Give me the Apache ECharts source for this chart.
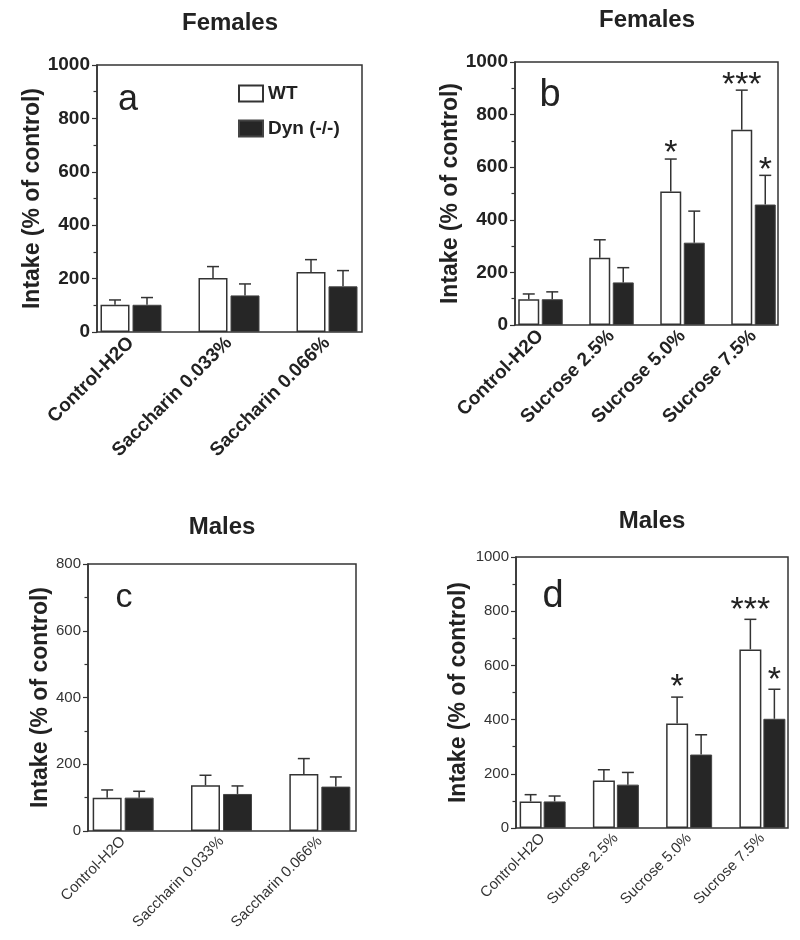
<!DOCTYPE html>
<html>
<head>
<meta charset="utf-8">
<script src="https://cdn.jsdelivr.net/npm/echarts@6/dist/echarts.min.js"></script>
<style>html,body{margin:0;padding:0;background:#fff;}#main{width:800px;height:940px;}</style>
</head>
<body>
<div id="main"></div>
<script>
// ---------- data ----------
const saccCats = ['Control-H2O', 'Saccharin 0.033%', 'Saccharin 0.066%'];
const sucCats = ['Control-H2O', 'Sucrose 2.5%', 'Sucrose 5.0%', 'Sucrose 7.5%'];
const seriesNames = ['WT', 'Dyn (-/-)'];

// Females, saccharin (panel a)
const femSaccWT = [102, 202, 225];
const femSaccWTSem = [18, 43, 46];
const femSaccDyn = [102, 137, 171];
const femSaccDynSem = [27, 43, 59];

// Females, sucrose (panel b)
const femSucWT = [98, 256, 508, 742];
const femSucWTSem = [20, 68, 123, 151];
const femSucDyn = [98, 162, 313, 458];
const femSucDynSem = [28, 56, 120, 111];
const femSucWTSig = ['', '', '*', '***'];
const femSucDynSig = ['', '', '', '*'];

// Males, saccharin (panel c)
const maleSaccWT = [100, 137, 171];
const maleSaccWTSem = [23, 30, 46];
const maleSaccDyn = [100, 111, 133];
const maleSaccDynSem = [19, 24, 29];

// Males, sucrose (panel d)
const maleSucWT = [98, 175, 386, 659];
const maleSucWTSem = [25, 40, 97, 111];
const maleSucDyn = [98, 160, 271, 403];
const maleSucDynSem = [20, 45, 73, 109];
const maleSucWTSig = ['', '', '*', '***'];
const maleSucDynSig = ['', '', '', '*'];

const yTicksMax = { a: 1000, b: 1000, c: 800, d: 1000 };
const yTickStep = 200;
const yAxisName = 'Intake (% of control)';

// ---------- build ----------
const FONT = '"Liberation Sans", Arial, Helvetica, sans-serif';
const INK = '#222';
const LINE = '#333';
const grids = [], xAxes = [], yAxes = [], series = [];

function errSeries(xi, yi, vals, sems, sigs, offset, sigOff) {
  return {
    type: 'custom', xAxisIndex: xi, yAxisIndex: yi, z: 5, silent: true,
    data: vals.map((v, i) => [i, v, sems[i]]),
    renderItem: function (params, api) {
      const i = api.value(0), m = api.value(1), s = api.value(2);
      const p0 = api.coord([i, m]);
      const p1 = api.coord([i, m + s]);
      const x = p0[0] + offset;
      const children = [
        { type: 'line', shape: { x1: x, y1: p0[1], x2: x, y2: p1[1] }, style: { stroke: LINE, lineWidth: 1.5 } },
        { type: 'line', shape: { x1: x - 6, y1: p1[1], x2: x + 6, y2: p1[1] }, style: { stroke: LINE, lineWidth: 1.5 } }
      ];
      const sig = sigs ? sigs[params.dataIndex] : '';
      if (sig) {
        children.push({ type: 'text', style: {
          text: sig, x: x, y: p1[1] - sigOff, align: 'center', verticalAlign: 'middle',
          textAlign: 'center', textVerticalAlign: 'middle',
          font: '34px ' + FONT, fill: INK } });
      }
      return { type: 'group', children: children };
    }
  };
}

function addPanel(p) {
  const gi = grids.length;
  grids.push({ left: p.box[0], top: p.box[1], width: p.box[2], height: p.box[3], show: true,
    borderColor: LINE, borderWidth: 1.5, backgroundColor: 'transparent', containLabel: false, outerBoundsMode: 'none' });
  grids.push({ left: p.cat[0], top: p.box[1], width: p.cat[1], height: p.box[3], containLabel: false, outerBoundsMode: 'none' });
  xAxes.push({ gridIndex: gi, type: 'category', data: p.cats, show: false });
  yAxes.push({
    gridIndex: gi, type: 'value', min: 0, max: p.max, interval: yTickStep,
    name: yAxisName, nameLocation: 'middle', nameGap: p.nameGap,
    nameTextStyle: { fontFamily: FONT, fontWeight: 'bold', fontSize: 23, color: INK },
    axisLine: { show: true, lineStyle: { color: LINE, width: 1.5 } },
    axisTick: { show: true, length: 5, lineStyle: { color: LINE, width: 1.2 } },
    minorTick: { show: true, splitNumber: 2, length: 3.5, lineStyle: { color: LINE, width: 1.2 } },
    splitLine: { show: false },
    axisLabel: { margin: 7, fontFamily: FONT, fontSize: p.bold ? 19 : 15, fontWeight: p.bold ? 'bold' : 'normal',
      color: p.bold ? INK : '#333', formatter: function (v) { return String(v); } }
  });
  const xi = xAxes.length;
  xAxes.push({ gridIndex: gi + 1, type: 'category', data: p.cats,
    axisLine: { show: false }, axisTick: { show: false },
    axisLabel: { rotate: 45, interval: 0, margin: 8, fontFamily: FONT,
      fontSize: p.bold ? 19 : 15, fontWeight: p.bold ? 'bold' : 'normal', color: p.bold ? INK : '#333' } });
  const yi = yAxes.length;
  yAxes.push({ gridIndex: gi + 1, type: 'value', min: 0, max: p.max, interval: yTickStep, show: false });
  const gapPct = (p.gap / p.bw * 100) + '%';
  series.push({ name: seriesNames[0], type: 'bar', xAxisIndex: xi, yAxisIndex: yi, data: p.wt,
    barWidth: p.bw, barGap: gapPct, itemStyle: { color: '#fff', borderColor: LINE, borderWidth: 1.5 } });
  series.push({ name: seriesNames[1], type: 'bar', xAxisIndex: xi, yAxisIndex: yi, data: p.dyn,
    barWidth: p.bw, barGap: gapPct, itemStyle: { color: '#262626', borderColor: '#444', borderWidth: 1 } });
  const off = (p.bw + p.gap) / 2;
  series.push(errSeries(xi, yi, p.wt, p.wtSem, p.wtSig, -off, p.sigOff));
  series.push(errSeries(xi, yi, p.dyn, p.dynSem, p.dynSig, off, p.sigOff));
}

addPanel({ box: [97, 65, 265, 267], cat: [82, 294], max: yTicksMax.a, nameGap: 53, bold: true, bw: 29, gap: 3,
  cats: saccCats, wt: femSaccWT, wtSem: femSaccWTSem, dyn: femSaccDyn, dynSem: femSaccDynSem, sigOff: 5 });
addPanel({ box: [515, 62, 263, 263], cat: [505, 284], max: yTicksMax.b, nameGap: 53, bold: true, bw: 21, gap: 2.5,
  cats: sucCats, wt: femSucWT, wtSem: femSucWTSem, dyn: femSucDyn, dynSem: femSucDynSem,
  wtSig: femSucWTSig, dynSig: femSucDynSig, sigOff: 5 });
addPanel({ box: [88, 564, 268, 267], cat: [74, 295], max: yTicksMax.c, nameGap: 36, bold: false, bw: 29, gap: 3,
  cats: saccCats, wt: maleSaccWT, wtSem: maleSaccWTSem, dyn: maleSaccDyn, dynSem: maleSaccDynSem, sigOff: 5 });
addPanel({ box: [516, 557, 272, 271], cat: [506, 293], max: yTicksMax.d, nameGap: 46, bold: false, bw: 22, gap: 2,
  cats: sucCats, wt: maleSucWT, wtSem: maleSucWTSem, dyn: maleSucDyn, dynSem: maleSucDynSem,
  wtSig: maleSucWTSig, dynSig: maleSucDynSig, sigOff: 9 });

function txt(t, x, y, font) {
  return { type: 'text', x: x, y: y, silent: true, style: { text: t, font: font, fill: INK,
    align: 'center', verticalAlign: 'middle', textAlign: 'center', textVerticalAlign: 'middle' } };
}

const option = {
  backgroundColor: '#fff',
  animation: false,
  grid: grids, xAxis: xAxes, yAxis: yAxes, series: series,
  legend: {
    data: seriesNames, left: 238, top: 84, orient: 'vertical', padding: 0,
    itemWidth: 24, itemHeight: 16, itemGap: 16, icon: 'rect', selectedMode: false,
    textStyle: { fontFamily: FONT, fontWeight: 'bold', fontSize: 19, color: INK }
  },
  graphic: [
    txt('Females', 230, 23, 'bold 24px ' + FONT),
    txt('Females', 647, 20, 'bold 24px ' + FONT),
    txt('Males', 222, 527, 'bold 24px ' + FONT),
    txt('Males', 652, 521, 'bold 24px ' + FONT),
    txt('a', 128, 100, '36px ' + FONT),
    txt('b', 550, 96, '38px ' + FONT),
    txt('c', 124, 598, '34px ' + FONT),
    txt('d', 553, 597, '38px ' + FONT)
  ]
};

const chart = echarts.init(document.getElementById('main'), null, { renderer: 'canvas' });
chart.setOption(option);
</script>
</body>
</html>
